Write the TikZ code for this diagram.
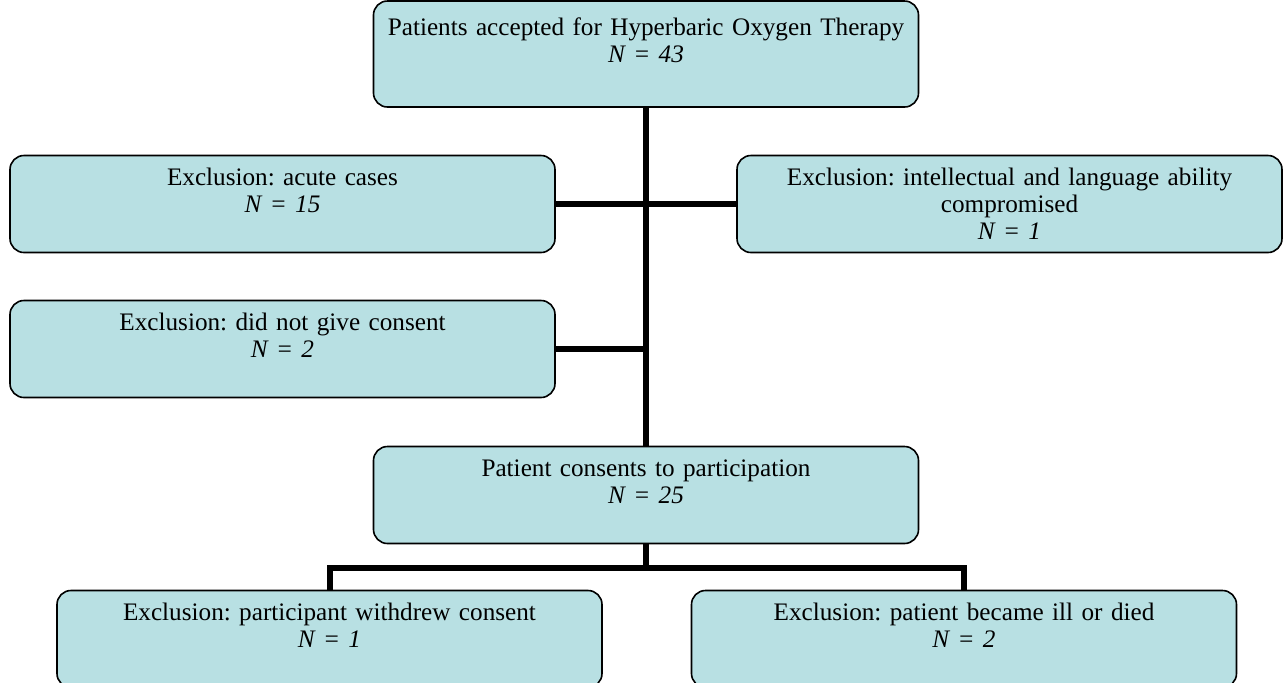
\documentclass[tikz,border=0pt]{standalone}
\usepackage{fontspec}
\setmainfont{Liberation Serif}
\usetikzlibrary{positioning}
\definecolor{boxfill}{RGB}{184,224,227}

\begin{document}
\begin{tikzpicture}[
    x=0.5pt, y=-0.5pt,
    % Define box style
    box/.style={
        draw, % Draw border
        rectangle, % Rectangle shape
        rounded corners=7pt, % Rounded corners
        fill=boxfill, % Light blue fill
        line width=0.8pt, % Border thickness
        inner sep=3pt, % Padding
        minimum width=272.5pt, % Box width
        minimum height=48.5pt, % Box height
        text width=266pt, % Text width
        align=center, % Center alignment
        font=\fontsize{12.6}{13.6}\selectfont\frenchspacing
      },
    % Define connector style
    link/.style={
        line width=3pt % Thick black line
      }
  ]

  % Page size
  \clip (0,0) rectangle (1287,682);

  % Define nodes
  \node[box, minimum height=53pt] (accepted) at (646,54) {Patients accepted for Hyperbaric Oxygen Therapy\\ \textit{N = 43}\\ \mbox{}}; % top box
  \node[box] (acute) at (282.5,204) {Exclusion: acute cases\\ \textit{N = 15}\\ \mbox{}}; % left, first row
  \node[box] (intellect) at (1009.5,204) {Exclusion: intellectual and language ability\\ compromised\\ \textit{N = 1}}; % right, first row
  \node[box] (consent) at (282.5,349) {Exclusion: did not give consent\\ \textit{N = 2}\\ \mbox{}}; % left, second row
  \node[box] (participation) at (646,495) {Patient consents to participation\\ \textit{N = 25}\\ \mbox{}}; % middle box
  \node[box] (withdrew) at (329.5,639) {Exclusion: participant withdrew consent\\ \textit{N = 1}\\ \mbox{}}; % bottom left
  \node[box] (ill) at (964,639) {Exclusion: patient became ill or died\\ \textit{N = 2}\\ \mbox{}}; % bottom right

  % Draw connectors
  % main trunk
  \draw[link] (accepted.south) -- (participation.north);

  % first row of exclusions
  \draw[link] (acute.east) -- (intellect.west);

  % second row of exclusions
  \draw[link] (consent.east) -- (consent.east -| accepted.south);

  % split to the two bottom boxes
  \draw[link] (participation.south) -- ++(0,24) coordinate (fork);
  \draw[link] (withdrew.north) |- (fork) -| (ill.north);

\end{tikzpicture}
\end{document}
